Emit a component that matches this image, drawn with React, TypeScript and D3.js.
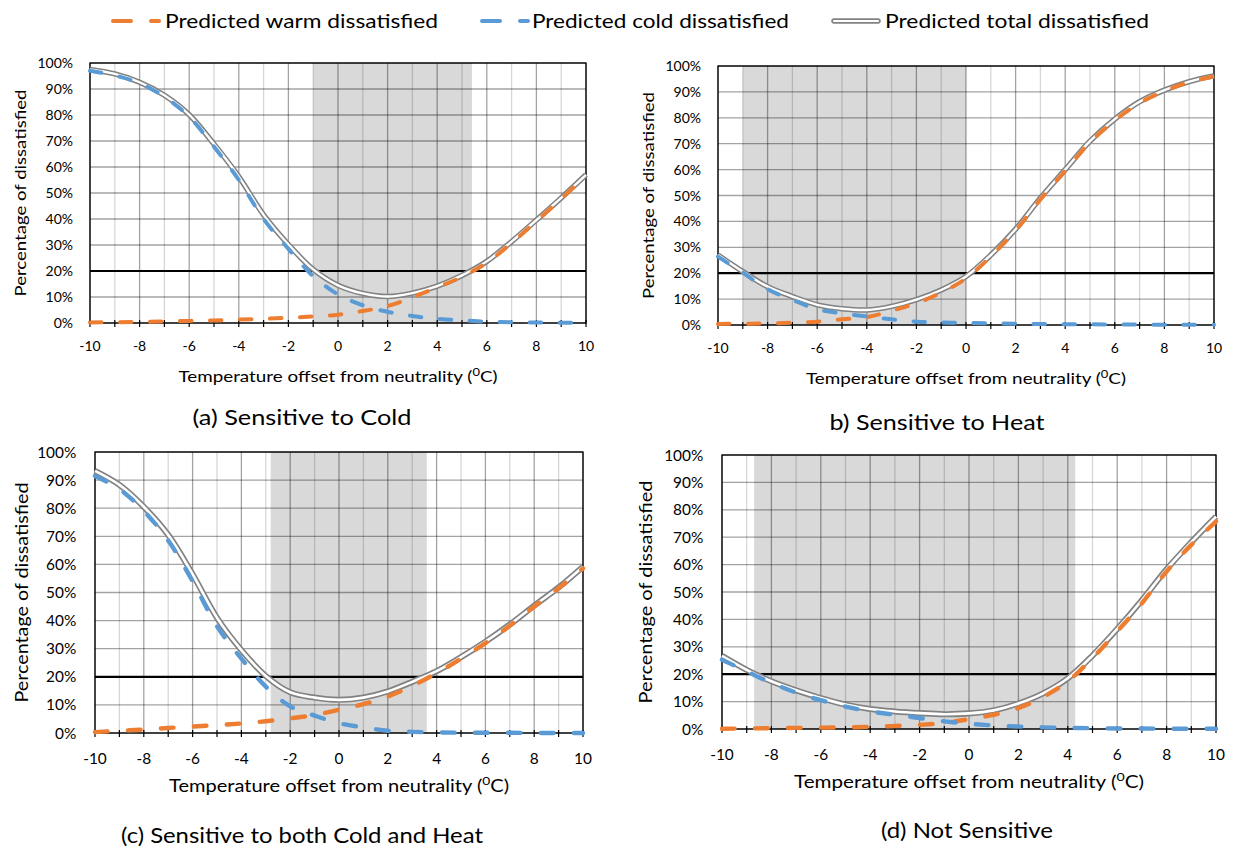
import React from "react";
import * as d3 from "d3";

// ---------- data ----------
const temperatures = [-10, -9, -8, -7, -6, -5, -4, -3, -2, -1, 0, 1, 2, 3, 4, 5, 6, 7, 8, 9, 10];
const xTickValues = [-10, -8, -6, -4, -2, 0, 2, 4, 6, 8, 10];
const yTickValues = [0, 10, 20, 30, 40, 50, 60, 70, 80, 90, 100];
const thresholdPct = 20;

const legendLabels = ["Predicted warm dissatisfied", "Predicted cold dissatisfied", "Predicted total dissatisfied"];
const panelTitles = ["(a) Sensitive to Cold", "b) Sensitive to Heat", "(c) Sensitive to both Cold and Heat", "(d) Not Sensitive"];
const xAxisTitle = "Temperature offset from neutrality (";
const yAxisTitle = "Percentage of dissatisfied";

// comfort (shaded) zones, °C
const comfortZones: [number, number][] = [[-1, 5.4], [-9, 0], [-2.8, 3.6], [-8.7, 4.3]];

// (a) Sensitive to Cold
const coldA = [97, 95.2, 92.2, 87, 79.3, 67.8, 55, 40, 28.5, 18, 11, 6.8, 4.3, 2.7, 1.6, 1.0, 0.5, 0.3, 0.2, 0.1, 0.1];
const warmA = [0.2, 0.3, 0.4, 0.6, 0.8, 1.0, 1.3, 1.6, 2.0, 2.5, 3.2, 4.6, 6.5, 9.9, 13.7, 17.8, 23.2, 30.8, 39.2, 47.8, 56.6];
const totalA = [97.5, 95.8, 92.6, 87.6, 80.1, 68.8, 56.3, 41.6, 30.2, 20.6, 14.5, 11.4, 10.2, 11.5, 14.2, 18.3, 23.7, 31.3, 39.6, 48.1, 57];

// (b) Sensitive to Heat
const coldB = [26.4, 20.2, 13.8, 9.7, 6.1, 4.5, 3.3, 2.2, 1.3, 1.0, 0.8, 0.6, 0.5, 0.4, 0.3, 0.3, 0.2, 0.2, 0.1, 0.1, 0.1];
const warmB = [0.4, 0.5, 0.6, 0.9, 1.3, 2.2, 3.0, 5.5, 8.4, 12.5, 18, 26.5, 36.5, 48.5, 59.5, 70.5, 79, 85.7, 90.3, 93.8, 96];
const totalB = [27, 20.6, 14.8, 11, 7.8, 6.3, 5.8, 7.2, 9.8, 13.5, 18.7, 27, 37, 49, 60, 71, 79.5, 86.2, 90.7, 94, 96.2];

// (c) Sensitive to both Cold and Heat
const coldC = [91.5, 86.8, 79, 68.5, 54, 38, 26.5, 16.5, 9.5, 6.2, 3.5, 2, 0.8, 0.4, 0.2, 0.1, 0.1, 0.1, 0, 0, 0];
const warmC = [0.3, 0.8, 1.2, 1.8, 2.3, 2.8, 3.4, 4.2, 5.2, 6.4, 8.3, 10.3, 13, 16.8, 21.3, 26.4, 32, 38.2, 45, 51.5, 58.6];
const totalC = [93.3, 88.3, 80.5, 70.5, 56.5, 41, 29.5, 20.3, 14.5, 12.6, 11.8, 12.6, 14.8, 18.2, 22, 27, 32.5, 38.6, 45.3, 51.8, 59.2];

// (d) Not Sensitive
const coldD = [25.3, 21, 16.8, 13.3, 10.5, 8.2, 6.4, 5.2, 4, 2.8, 1.9, 1.3, 0.9, 0.6, 0.4, 0.3, 0.2, 0.2, 0.1, 0.1, 0.1];
const warmD = [0.1, 0.2, 0.3, 0.4, 0.5, 0.6, 0.8, 1.1, 1.5, 2.2, 3.6, 5.2, 7.6, 11.7, 17.4, 25.9, 35.6, 45.9, 57.5, 67.2, 75.7];
const totalD = [26.7, 21.6, 17.4, 14.1, 11.3, 8.9, 7.3, 6.4, 5.8, 5.4, 5.7, 6.8, 9.3, 13, 18.5, 26.8, 36.5, 47, 58.3, 68.2, 77.5];

const panelSeries = [
  { cold: coldA, warm: warmA, total: totalA },
  { cold: coldB, warm: warmB, total: totalB },
  { cold: coldC, warm: warmC, total: totalC },
  { cold: coldD, warm: warmD, total: totalD },
];

// ---------- layout & style ----------
const W = 1233;
const H = 848;
const FONT = "Lato, 'Open Sans', 'DejaVu Sans', sans-serif";
const ORANGE = "#ED7D31";
const BLUE = "#5B9BD5";
const GRAY = "#828282";

const layouts = [
  { left: 90, top: 63, right: 586, bottom: 323, s: 1, yTitleX: 20, yTitleLen: 207, xTitleY: 381.5, xTitleLen: 319, titleX: 302, titleY: 424.5, titleLen: 219, titleSize: 21 },
  { left: 718, top: 66, right: 1214, bottom: 325, s: 1, yTitleX: 648, yTitleLen: 207, xTitleY: 384, xTitleLen: 320, titleX: 937, titleY: 429.5, titleLen: 215, titleSize: 21 },
  { left: 95, top: 452, right: 583, bottom: 733, s: 1.1, yTitleX: 21, yTitleLen: 220, xTitleY: 792, xTitleLen: 340, titleX: 302, titleY: 843, titleLen: 362, titleSize: 21.5 },
  { left: 722, top: 455, right: 1216, bottom: 729, s: 1.1, yTitleX: 645, yTitleLen: 223, xTitleY: 788, xTitleLen: 350, titleX: 967, titleY: 838, titleLen: 172, titleSize: 21.5 },
];

function Panel({ idx }: { idx: number }) {
  const L = layouts[idx];
  const S = panelSeries[idx];
  const zone = comfortZones[idx];
  const x = d3.scaleLinear().domain([-10, 10]).range([L.left, L.right]);
  const y = d3.scaleLinear().domain([0, 100]).range([L.bottom, L.top]);
  const line = (vals: number[]) =>
    d3
      .line<number>()
      .x((_, i) => x(temperatures[i]))
      .y((v) => y(v))
      .curve(d3.curveCatmullRom.alpha(0.5))(vals) || "";
  const tickFs = 14 * L.s;
  const dash = `${11.5 * L.s} ${18.5 * L.s}`;
  const minorX = d3.range(-10, 11, 1);
  return (
    <g>
      <rect x={x(zone[0])} y={L.top} width={x(zone[1]) - x(zone[0])} height={L.bottom - L.top} fill="#d9d9d9" />
      {minorX.map((t) => (
        <line
          key={"v" + t}
          x1={x(t)}
          x2={x(t)}
          y1={L.top}
          y2={L.bottom}
          stroke="#000"
          strokeOpacity={t % 2 === 0 ? 0.36 : 0.16}
          strokeWidth={1.3}
        />
      ))}
      {yTickValues.map((t) => (
        <line key={"h" + t} x1={L.left} x2={L.right} y1={y(t)} y2={y(t)} stroke="#000" strokeOpacity={0.36} strokeWidth={1.3} />
      ))}
      <rect x={L.left} y={L.top} width={L.right - L.left} height={L.bottom - L.top} fill="none" stroke="#000" strokeWidth={1.3} />
      {minorX.map((t) => (
        <line key={"t" + t} x1={x(t)} x2={x(t)} y1={L.bottom - 3} y2={L.bottom + 4} stroke="#000" strokeWidth={1.2} />
      ))}
      <line x1={L.left} x2={L.right} y1={y(thresholdPct)} y2={y(thresholdPct)} stroke="#000" strokeWidth={2.2} />
      <path d={line(S.total)} fill="none" stroke={GRAY} strokeWidth={5.5 * L.s} strokeLinejoin="round" />
      <path d={line(S.total)} fill="none" stroke="#fff" strokeWidth={2.4 * L.s} strokeLinejoin="round" />
      <path d={line(S.warm)} fill="none" stroke={ORANGE} strokeWidth={4 * L.s} strokeDasharray={dash} strokeLinecap="round" />
      <path d={line(S.cold)} fill="none" stroke={BLUE} strokeWidth={4 * L.s} strokeDasharray={dash} strokeLinecap="round" />
      {yTickValues.map((t) => (
        <text key={"yl" + t} x={L.left - 17 * L.s} y={y(t) + 5 * L.s} textAnchor="end" fontSize={tickFs} fontFamily={FONT} fill="#000">
          {t + "%"}
        </text>
      ))}
      {xTickValues.map((t) => (
        <text key={"xl" + t} x={x(t)} y={L.bottom + 28 * L.s} textAnchor="middle" fontSize={tickFs} fontFamily={FONT} fill="#000">
          {String(t)}
        </text>
      ))}
      <text
        x={(L.left + L.right) / 2}
        y={L.xTitleY}
        textAnchor="middle"
        fontSize={16 * L.s}
        fontFamily={FONT}
        fill="#000"
        textLength={L.xTitleLen}
        lengthAdjust="spacingAndGlyphs"
      >
        {xAxisTitle}
        <tspan fontSize={11 * L.s} dy={-6 * L.s}>0</tspan>
        <tspan dy={6 * L.s}>C)</tspan>
      </text>
      <text
        transform={`translate(${L.yTitleX + 6 * L.s},${(L.top + L.bottom) / 2}) rotate(-90)`}
        textAnchor="middle"
        fontSize={16 * L.s}
        fontFamily={FONT}
        fill="#000"
        textLength={L.yTitleLen}
        lengthAdjust="spacingAndGlyphs"
      >
        {yAxisTitle}
      </text>
      <text
        x={L.titleX}
        y={L.titleY}
        textAnchor="middle"
        fontSize={L.titleSize}
        fontFamily={FONT}
        fill="#000"
        textLength={L.titleLen}
        lengthAdjust="spacingAndGlyphs"
      >
        {panelTitles[idx]}
      </text>
    </g>
  );
}

function Legend() {
  const items = [
    { x0: 111, tx: 165, len: 273, color: ORANGE, kind: "dash" },
    { x0: 480, tx: 532, len: 257, color: BLUE, kind: "dash" },
    { x0: 832, tx: 885, len: 264, color: GRAY, kind: "double" },
  ];
  const ly = 21;
  return (
    <g>
      {items.map((it, i) => (
        <g key={i}>
          {it.kind === "dash" ? (
            <line x1={it.x0 + 2} x2={it.x0 + 48} y1={ly} y2={ly} stroke={it.color} strokeWidth={4} strokeDasharray="18 20" strokeLinecap="round" />
          ) : (
            <g>
              <line x1={it.x0 + 2} x2={it.x0 + 46} y1={ly} y2={ly} stroke={GRAY} strokeWidth={5.5} strokeLinecap="round" />
              <line x1={it.x0 + 2} x2={it.x0 + 46} y1={ly} y2={ly} stroke="#fff" strokeWidth={2.2} strokeLinecap="round" />
            </g>
          )}
          <text x={it.tx} y={ly + 7} fontSize={20} fontFamily={FONT} fill="#000" textLength={it.len} lengthAdjust="spacingAndGlyphs">
            {legendLabels[i]}
          </text>
        </g>
      ))}
    </g>
  );
}

export default function App() {
  return (
    <div style={{ position: "absolute", left: 0, top: 0, width: W, height: H, background: "#fff" }}>
      <svg width={W} height={H} viewBox={`0 0 ${W} ${H}`} style={{ display: "block" }}>
        <rect x={0} y={0} width={W} height={H} fill="#fff" />
        <Legend />
        {[0, 1, 2, 3].map((i) => (
          <Panel key={i} idx={i} />
        ))}
      </svg>
    </div>
  );
}
